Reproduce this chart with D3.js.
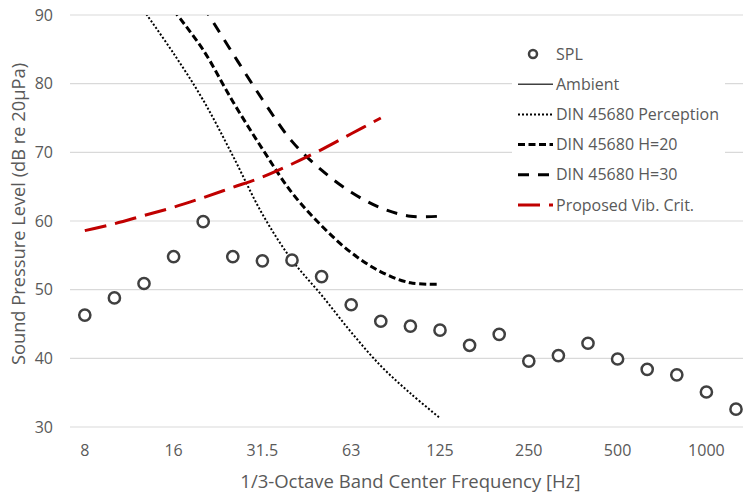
<!DOCTYPE html>
<html>
<head>
<meta charset="utf-8">
<script src="https://cdn.jsdelivr.net/npm/d3@7"></script>
<style>
  body { margin: 0; background: #fff; }
  text { font-family: "Open Sans", "Noto Sans", sans-serif; fill: #595959; }
</style>
</head>
<body>
<div id="chart"><svg></svg></div>
<script>
const W = 743, H = 492;
const margin = { top: 15, left: 70 },
      step = 29.6;

// 1/3-octave band centres
const freqs = ["8", "10", "12.5", "16", "20", "25", "31.5", "40", "50", "63", "80", "100",
               "125", "160", "200", "250", "315", "400", "500", "630", "800", "1000", "1250"];
const tickFreqs = ["8", "16", "31.5", "63", "125", "250", "500", "1000"];
const yTicks = [30, 40, 50, 60, 70, 80, 90];

// measured SPL (dB)
const spl = [46.3, 48.8, 50.9, 54.8, 59.9, 54.8, 54.2, 54.3, 51.9, 47.8, 45.4, 44.7,
             44.1, 41.9, 43.5, 39.6, 40.4, 42.2, 39.9, 38.4, 37.6, 35.1, 32.6];

// ambient is in the legend but has no points inside the plotted range
const ambient = [];

const dinPercFreqs = ["12.5", "16", "20", "25", "31.5", "40", "50", "63", "80", "100", "125"];
const dinPerc = [90.6, 84.4, 77.6, 69.5, 61.0, 54.3, 49.2, 43.8, 38.9, 34.9, 31.3];

const dinH20Freqs = ["16", "20", "25", "31.5", "40", "50", "63", "80", "100", "125"];
const dinH20 = [90.7, 84.9, 77.4, 70.5, 64.1, 59.3, 55.4, 52.6, 51.0, 50.8];

const dinH30Freqs = ["20", "25", "31.5", "40", "50", "63", "80", "100", "125"];
const dinH30 = [91.3, 84.4, 77.7, 71.6, 67.4, 64.2, 61.9, 60.7, 60.7];

const vibFreqs = ["8", "10", "12.5", "16", "20", "25", "31.5", "40", "50", "63", "80"];
const vibCrit = [58.6, 59.6, 60.8, 62.0, 63.4, 64.9, 66.4, 68.3, 70.4, 72.7, 75.0];

const svg = d3.select("#chart svg")
    .attr("width", W)
    .attr("height", H);

const x = d3.scaleBand()
    .domain(freqs)
    .range([margin.left, margin.left + step * freqs.length])
    .padding(0);
const cx = f => x(f) + x.bandwidth() / 2;

const y = d3.scaleLinear()
    .domain([30, 90])
    .range([427, margin.top]);

// gridlines
svg.append("g")
   .selectAll("line")
   .data(yTicks)
   .enter().append("line")
   .attr("x1", x.range()[0])
   .attr("x2", x.range()[1])
   .attr("y1", d => y(d))
   .attr("y2", d => y(d))
   .style("stroke", "#d9d9d9")
   .style("stroke-width", 1.2);

// y tick labels
svg.append("g")
   .selectAll("text")
   .data(yTicks)
   .enter().append("text")
   .attr("x", 53)
   .attr("y", d => y(d))
   .attr("dy", "0.35em")
   .style("text-anchor", "end")
   .style("font-size", "16px")
   .text(d => d);

// x tick labels
svg.append("g")
   .selectAll("text")
   .data(tickFreqs)
   .enter().append("text")
   .attr("x", d => cx(d))
   .attr("y", 450)
   .attr("dy", "0.35em")
   .style("text-anchor", "middle")
   .style("font-size", "16px")
   .text(d => d);

// axis titles
svg.append("text")
   .attr("x", (x.range()[0] + x.range()[1]) / 2)
   .attr("y", 481.5)
   .attr("dy", "0.35em")
   .style("text-anchor", "middle")
   .style("font-size", "18.5px")
   .text("1/3-Octave Band Center Frequency [Hz]");

svg.append("text")
   .attr("transform", "translate(19,214) rotate(-90)")
   .attr("dy", "0.35em")
   .style("text-anchor", "middle")
   .style("font-size", "18.3px")
   .text("Sound Pressure Level (dB re 20\u03bcPa)");

svg.append("clipPath")
   .attr("id", "plotClip")
   .append("rect")
   .attr("x", x.range()[0])
   .attr("y", margin.top)
   .attr("width", x.range()[1] - x.range()[0])
   .attr("height", 427 - margin.top);

const plot = svg.append("g").attr("clip-path", "url(#plotClip)");

const line = d3.line()
    .x(d => cx(d[0]))
    .y(d => y(d[1]))
    .curve(d3.curveCatmullRom.alpha(0.5));

const series = [
    { name: "Ambient", f: [], v: ambient, color: "#404040", width: 1.5, dash: null },
    { name: "DIN 45680 Perception", f: dinPercFreqs, v: dinPerc, color: "#000", width: 2, dash: "2,2" },
    { name: "DIN 45680 H=20", f: dinH20Freqs, v: dinH20, color: "#000", width: 3, dash: "7,3.5" },
    { name: "DIN 45680 H=30", f: dinH30Freqs, v: dinH30, color: "#000", width: 3, dash: "11,9" },
    { name: "Proposed Vib. Crit.", f: vibFreqs, v: vibCrit, color: "#c00000", width: 3, dash: "22,9" }
];

series.forEach(s => {
    if (!s.v.length) return;
    plot.append("path")
        .attr("d", line(s.f.map((f, i) => [f, s.v[i]])))
        .style("fill", "none")
        .style("stroke", s.color)
        .style("stroke-width", s.width)
        .style("stroke-dasharray", s.dash);
});

// SPL markers
plot.selectAll("circle.spl")
    .data(spl)
    .enter().append("circle")
    .attr("class", "spl")
    .attr("cx", (d, i) => cx(freqs[i]))
    .attr("cy", d => y(d))
    .attr("r", 5.6)
    .style("fill", "#fff")
    .style("stroke", "#404040")
    .style("stroke-width", 2.5);

// legend
const legend = svg.append("g");
legend.append("rect")
    .attr("x", 512)
    .attr("y", 38)
    .attr("width", 213)
    .attr("height", 182)
    .style("fill", "#fff");

const legendItems = [{ name: "SPL", marker: true }].concat(series);
const item = legend.selectAll(".legend")
    .data(legendItems)
    .enter().append("g")
    .attr("class", "legend")
    .attr("transform", (d, i) => `translate(0,${54 + i * 30.2})`);

item.each(function(d) {
    const g = d3.select(this);
    if (d.marker) {
        g.append("circle")
         .attr("cx", 533)
         .attr("r", 4)
         .style("fill", "#fff")
         .style("stroke", "#404040")
         .style("stroke-width", 2.5);
    } else {
        g.append("line")
         .attr("x1", 518)
         .attr("x2", 553)
         .style("stroke", d.color)
         .style("stroke-width", d.width)
         .style("stroke-dasharray", d.dash);
    }
});

item.append("text")
    .attr("x", 556)
    .attr("dy", "0.35em")
    .style("font-size", "16px")
    .text(d => d.name);
</script>
</body>
</html>
